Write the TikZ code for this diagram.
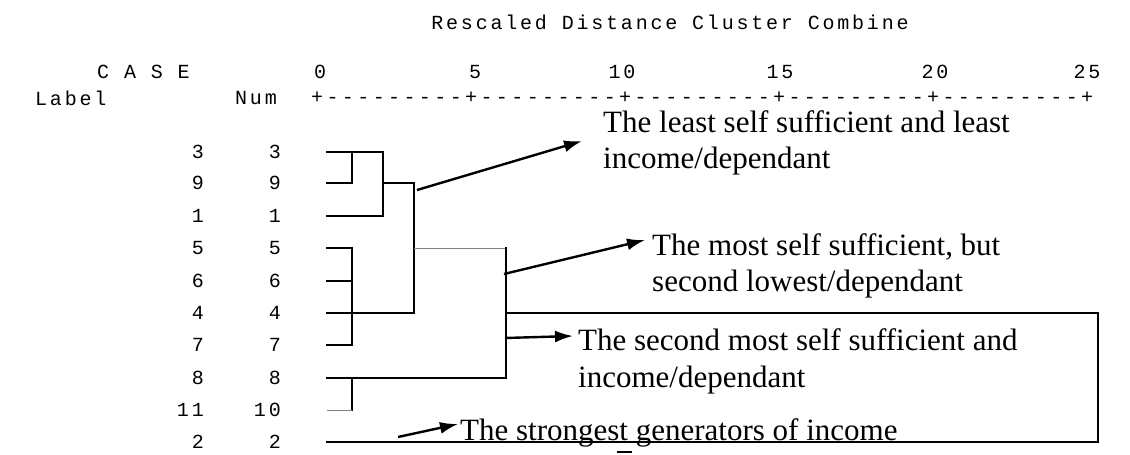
\documentclass[tikz,border=0pt]{standalone}
\usepackage{fontspec}
\setmainfont{Liberation Serif}
\newfontfamily\spss[LetterSpace=14]{Liberation Mono}
\usetikzlibrary{arrows.meta}
\newcommand\ak{\kern3.4pt}
\newcommand\axisseg{+\ak-\ak-\ak-\ak-\ak-\ak-\ak-\ak-\ak-\ak}
\begin{document}
\begin{tikzpicture}[x=1pt,y=-1pt,
  mono/.style={font=\spss\fontsize{20}{22}\selectfont, inner sep=0pt},
  note/.style={font=\fontsize{31}{38}\selectfont, inner sep=0pt, anchor=base west},
  tree/.style={line width=1.5pt, line cap=rect},
  thinline/.style={line width=0.8pt, gray},
  pointer/.style={line width=2.4pt, -{Latex[length=18pt,width=12pt]}}]
\useasboundingbox[fill=white] (0,0) rectangle (1130,455);
% header
\node[mono] (title) at (670,22) {Rescaled Distance Cluster Combine};
\node[mono,anchor=west] (case) at (97,72) {C A S E};
\node[mono,anchor=west] (label) at (35,98) {Label};
\node[mono,anchor=west] (num) at (235,98) {Num};
\node[mono] (a0) at (320,72) {0};
\node[mono] (a5) at (475,72) {5};
\node[mono] (a10) at (622,72) {10};
\node[mono] (a15) at (780,72) {15};
\node[mono] (a20) at (935,72) {20};
\node[mono] (a25) at (1087,72) {25};
\node[mono,anchor=west] (axis) at (311,98) {\axisseg\axisseg\axisseg\axisseg\axisseg+};
% rows
\foreach \l/\n/\y [count=\i] in {3/3/152, 9/9/183, 1/1/216, 5/5/248, 6/6/281, 4/4/313, 7/7/345, 8/8/378, 11/10/410, 2/2/442}{
  \node[mono,anchor=east] (lab\i) at (204,\y) {\l};
  \node[mono,anchor=east] (num\i) at (281,\y) {\n};
}
% dendrogram
\draw[tree] (327,152) -- (383,152) -- (383,216) -- (327,216);
\draw[tree] (352,152) -- (352,183) -- (327,183);
\draw[tree] (383,183) -- (414,183) -- (414,313) -- (327,313);
\draw[tree] (327,248) -- (352,248) -- (352,345) -- (327,345);
\draw[tree] (327,281) -- (352,281);
\draw[thinline] (414,248) -- (506,248);
\draw[tree] (506,248) -- (506,378) -- (327,378);
\draw[tree] (352,378) -- (352,410);
\draw[thinline] (352,410) -- (327,410);
\draw[tree] (506,313) -- (1098,313) -- (1098,442) -- (327,442);
% annotations
\node[note] (n1a) at (603,132) {The least self sufficient and least};
\node[note] (n1b) at (603,168) {income/dependant};
\node[note] (n2a) at (652,255) {The most self sufficient, but};
\node[note] (n2b) at (652,291) {second lowest/dependant};
\node[note] (n3a) at (578,350) {The second most self sufficient and};
\node[note] (n3b) at (578,387) {income/dependant};
\node[note] (n4) at (460,440) {The strongest generators of income};
% arrows
\coordinate (s1) at (417,190); \coordinate (e1) at (582,141);
\coordinate (s2) at (504,274); \coordinate (e2) at (645,240);
\coordinate (s3) at (505,338); \coordinate (e3) at (573,336);
\coordinate (s4) at (398,437); \coordinate (e4) at (458,424);
\draw[pointer] (s1) -- (e1);
\draw[pointer] (s2) -- (e2);
\draw[pointer] (s3) -- (e3);
\draw[pointer] (s4) -- (e4);
% cut-off mark at bottom
\draw[line width=1.2pt] (617,452) -- (632,452);
\end{tikzpicture}
\end{document}
